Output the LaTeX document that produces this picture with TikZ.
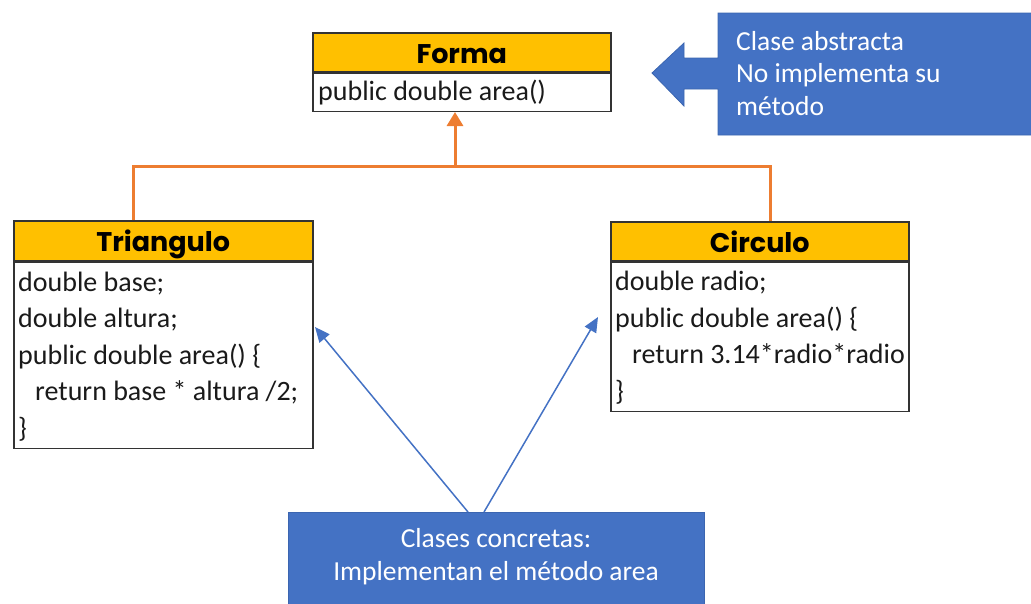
\documentclass[tikz,border=0pt]{standalone}
\usepackage{fontspec}
\setmainfont{Carlito}
\newfontfamily\titlefont{Poppins}
\usetikzlibrary{arrows.meta}
\definecolor{hdr}{HTML}{FFC000}
\definecolor{note}{HTML}{4472C4}
\definecolor{notedge}{HTML}{3B65B0}
\definecolor{inh}{HTML}{ED7D31}
\definecolor{frame}{HTML}{333333}
\definecolor{code}{HTML}{1A1A1A}
\tikzset{
  every node/.style={font=\fontsize{28}{36.5}\selectfont},
  classhead/.style={draw=frame, line width=1.5pt, fill=hdr, anchor=north west,
    inner sep=0pt, text height=24pt, text depth=2pt,
    font=\titlefont\bfseries\fontsize{27}{30}\selectfont},
  classbody/.style={draw=frame, line width=1.5pt, fill=white, anchor=north west,
    inner sep=0pt},
  codetext/.style={anchor=west, align=left, inner sep=0pt, text=code},
  notebox/.style={fill=note, draw=notedge, line width=0.8pt, inner sep=0pt},
  notetext/.style={text=white, inner sep=0pt},
  inherit/.style={draw=inh, line width=3pt},
  pointer/.style={draw=note, line width=1.5pt, -{Triangle[length=15pt,width=13pt]}},
}
\begin{document}
\begin{tikzpicture}[x=1pt,y=-1pt]
\useasboundingbox (0,0) rectangle (1031,603);

% abstract class
\node[classhead, minimum width=298pt, minimum height=39pt] (formaT) at (312,32) {Forma};
\node[classbody, minimum width=298pt, minimum height=38pt] (formaB) at (formaT.south west) {};
\node[codetext] (formaM) at ([xshift=6pt]formaB.west) {public double area()};

% concrete classes
\node[classhead, minimum width=299pt, minimum height=40pt] (triT) at (13,220) {Triangulo};
\node[classbody, minimum width=299pt, minimum height=186pt] (triB) at (triT.south west) {};
\node[codetext] (triM) at ([xshift=5pt,yshift=-1pt]triB.west)
  {double base;\\double altura;\\public double area() \{\\\hspace*{17pt}return base * altura /2;\\\}};

\node[classhead, minimum width=298pt, minimum height=39pt] (cirT) at (610,221) {Circulo};
\node[classbody, minimum width=298pt, minimum height=149pt] (cirB) at (cirT.south west) {};
\node[codetext] (cirM) at ([xshift=5pt,yshift=-1pt]cirB.west)
  {double radio;\\public double area() \{\\\hspace*{17pt}return 3.14*radio*radio\\\}};

% inheritance connector
\coordinate (join) at (455,166);
\draw[inherit] (triT.north -| 133,0) |- (join) -| (cirT.north -| 770,0);
\draw[inherit, -{Triangle[length=14pt,width=16pt]}] (join) -- (formaB.south -| join);

% note on the abstract class (left arrow callout)
\fill[notebox] (718,13) -- (1035,13) -- (1035,135) -- (718,135) -- (718,89)
  -- (684,89) -- (684,106) -- (652,73) -- (684,43) -- (684,58) -- (718,58) -- cycle;
\node[notetext, anchor=north west, align=left, font=\fontsize{27.5}{32.5}\selectfont] (abst) at (736,31)
  {Clase abstracta\\No implementa su\\método};

% note on the concrete classes
\node[notebox, anchor=north west, minimum width=416pt, minimum height=95pt] (conc) at (288,512) {};
\node[notetext, align=center, font=\fontsize{27.5}{33}\selectfont] (concT) at (496,557)
  {Clases concretas:\\Implementan el método area};

\coordinate (triTip) at (315,327);
\coordinate (cirTip) at (598,317);
\draw[pointer] (conc.north -| 468,0) -- (triTip);
\draw[pointer] (conc.north -| 484,0) -- (cirTip);
\end{tikzpicture}
\end{document}
